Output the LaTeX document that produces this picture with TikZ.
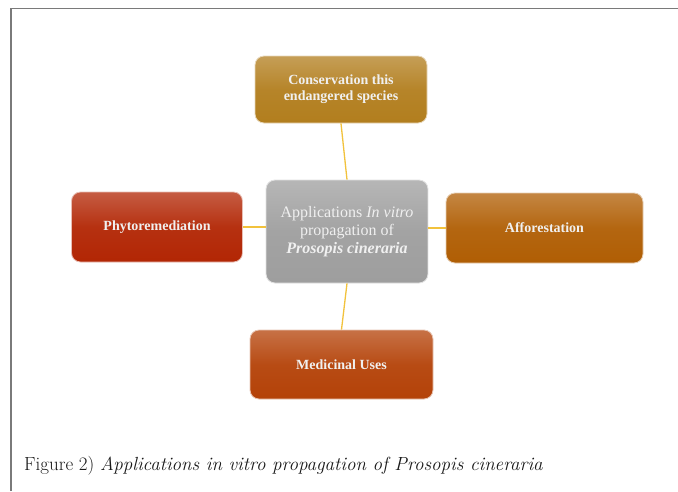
\documentclass[tikz,border=0pt]{standalone}
\usepackage{fontspec}
\setmainfont{Liberation Serif}
\newfontfamily\capfont{Latin Modern Roman}
\usetikzlibrary{shadings}
\definecolor{linec}{HTML}{F2C23C}
\definecolor{framec}{HTML}{7A7A7A}
\definecolor{cgrey}{HTML}{9E9E9E}
\definecolor{cgold}{HTML}{B27E1E}
\definecolor{cred}{HTML}{B22604}
\definecolor{corange}{HTML}{B05E04}
\definecolor{crust}{HTML}{B44208}
\tikzset{
  box/.style={rounded corners=9pt, draw=white!70!#1, line width=0.8pt,
    top color=white!25!#1, bottom color=#1, middle color=#1!95!white,
    text=white!94!black, font=\bfseries\fontsize{14}{16}\selectfont,
    align=center, inner sep=0pt},
  conn/.style={draw=linec, line width=1.3pt},
}
\begin{document}
\begin{tikzpicture}[x=1pt,y=-1pt]
\useasboundingbox (0,0) rectangle (678,491);
\fill[white] (0,0) rectangle (678,491);
\draw[framec, line width=1.6pt] (11,491) -- (11,8.5) -- (678,8.5);
% nodes
\node[box=cgrey, minimum width=162pt, minimum height=103pt,
      font=\fontsize{16}{18}\selectfont] (center) at (347,231.5)
  {Applications \textit{In vitro}\\propagation of\\\textbf{\textit{Prosopis cineraria}}};
\node[box=cgold, minimum width=172pt, minimum height=67pt] (top) at (341,89.5)
  {Conservation this\\endangered species};
\node[box=cred, minimum width=171pt, minimum height=70pt] (left) at (157,227)
  {Phytoremediation};
\node[box=corange, minimum width=197pt, minimum height=70pt] (right) at (544.5,228)
  {Afforestation};
\node[box=crust, minimum width=183pt, minimum height=69pt] (bottom) at (341.5,364.5)
  {Medicinal Uses};
% connectors
\draw[conn] (top.south) -- (center.north);
\draw[conn] (center.south) -- (bottom.north);
\draw[conn] (left.east) -- (center.west |- left.east);
\draw[conn] (center.east |- right.west) -- (right.west);
% caption
\node[anchor=west, inner sep=0pt, font=\capfont\fontsize{19}{21}\selectfont, text=black!90] (cap) at (24,466)
  {Figure 2) \textit{Applications in vitro propagation of Prosopis cineraria}};
\end{tikzpicture}
\end{document}
